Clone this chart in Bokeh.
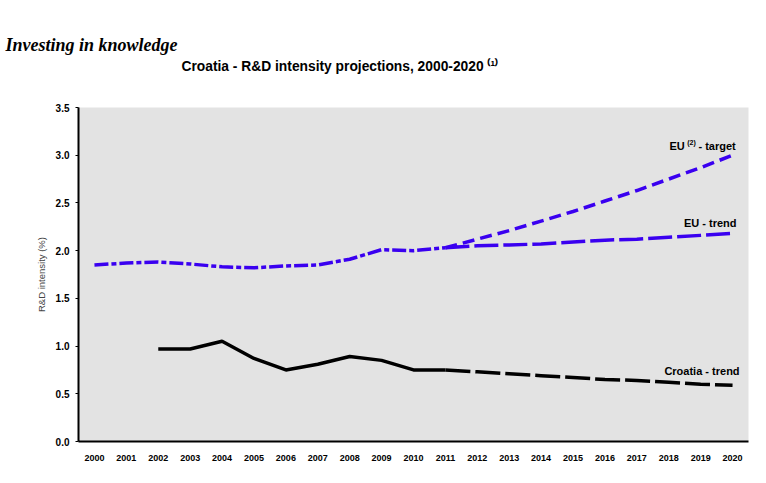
from bokeh.plotting import figure
from bokeh.models import Range1d, FixedTicker, Label, Title
from bokeh.embed import file_html
from bokeh.resources import INLINE

years = list(range(2000, 2021))
year_labels = [str(y) for y in years]
y_ticks = [0.0, 0.5, 1.0, 1.5, 2.0, 2.5, 3.0, 3.5]
y_tick_labels = ["0.0", "0.5", "1.0", "1.5", "2.0", "2.5", "3.0", "3.5"]

eu_hist_years = list(range(2000, 2012))
eu_hist = [1.85, 1.87, 1.88, 1.86, 1.83, 1.82, 1.84, 1.85, 1.91, 2.01, 2.00, 2.03]

eu_trend_years = list(range(2011, 2021))
eu_trend = [2.03, 2.05, 2.06, 2.07, 2.09, 2.11, 2.12, 2.14, 2.16, 2.18]

eu_target_years = list(range(2011, 2021))
eu_target = [2.03, 2.12, 2.21, 2.31, 2.41, 2.52, 2.63, 2.75, 2.87, 3.00]

hr_hist_years = list(range(2002, 2012))
hr_hist = [0.97, 0.97, 1.05, 0.87, 0.75, 0.81, 0.89, 0.85, 0.75, 0.75]

hr_trend_years = list(range(2011, 2021))
hr_trend = [0.75, 0.73, 0.71, 0.69, 0.67, 0.65, 0.64, 0.62, 0.60, 0.59]

BLUE = "#3a00f0"
SANS = "Liberation Sans"

p = figure(width=758, height=475, output_backend="svg", toolbar_location=None,
           x_range=Range1d(1999.5, 2020.5), y_range=Range1d(0, 3.5),
           min_border_left=78, min_border_right=10, min_border_top=107,
           min_border_bottom=34)
p.background_fill_color = "#e3e3e3"
p.border_fill_color = "white"
p.outline_line_color = None
p.xgrid.grid_line_color = None
p.ygrid.grid_line_color = None

p.xaxis.ticker = FixedTicker(ticks=years)
p.xaxis.major_label_overrides = {y: l for y, l in zip(years, year_labels)}
p.yaxis.ticker = FixedTicker(ticks=y_ticks)
p.yaxis.major_label_overrides = {t: l for t, l in zip(y_ticks, y_tick_labels)}

for ax in (p.xaxis, p.yaxis):
    ax.axis_line_color = "black"
    ax.axis_line_width = 2
    ax.minor_tick_line_color = None
    ax.major_label_text_font = SANS
    ax.major_label_text_font_style = "bold"
    ax.major_label_text_color = "black"
p.xaxis.major_label_text_font_size = "9px"
p.yaxis.major_label_text_font_size = "10px"
p.xaxis.major_tick_line_color = None
p.xaxis.major_label_standoff = 7
p.yaxis.major_tick_line_color = "black"
p.yaxis.major_tick_line_width = 1
p.yaxis.major_tick_in = 0
p.yaxis.major_tick_out = 3
p.yaxis.major_label_standoff = 6
p.yaxis.axis_label = "R&D intensity (%)"
p.yaxis.axis_label_text_font = SANS
p.yaxis.axis_label_text_font_style = "normal"
p.yaxis.axis_label_text_font_size = "9.5px"
p.yaxis.axis_label_standoff = 6

p.line(eu_hist_years, eu_hist, line_color=BLUE, line_width=3.5, line_dash="14 3 5 3")
p.line(eu_trend_years, eu_trend, line_color=BLUE, line_width=3.5, line_dash="24 5")
p.line(eu_target_years, eu_target, line_color=BLUE, line_width=3.5, line_dash="12 6")
p.line(hr_hist_years, hr_hist, line_color="black", line_width=3.5)
p.line(hr_trend_years, hr_trend, line_color="black", line_width=3.5, line_dash="25 5")

def lab(x, y, text, size="11px", xo=0, yo=0):
    p.add_layout(Label(x=x, y=y, text=text, text_font=SANS, text_font_size=size,
                       text_font_style="bold", text_align="right", text_color="black",
                       text_baseline="alphabetic", x_offset=xo, y_offset=yo))

# series labels
lab(2020.1, 3.10, "- target")
lab(2020.1, 3.10, "(2)", size="7px", xo=-40, yo=3)
lab(2020.1, 3.10, "EU", xo=-51)
lab(2020.22, 2.29, "EU  - trend")
lab(2020.22, 0.74, "Croatia - trend")

# titles, stacked upward from the plot area (later added = higher)
p.title.text = ""
spacer = Title(text=" ", text_font=SANS, text_font_size="10px", standoff=21)
p.add_layout(spacer, "above")
sub = Title(text="Croatia - R&D intensity projections, 2000-2020 \u207d\u00b9\u207e",
            text_font=SANS, text_font_size="13.8px", text_font_style="bold",
            align="left", offset=103, standoff=0, text_color="black")
p.add_layout(sub, "above")
main = Title(text="Investing in knowledge", text_font="Liberation Serif",
             text_font_size="18px", text_font_style="bold italic",
             align="left", offset=-73, standoff=4, text_color="black")
p.add_layout(main, "above")

open("out.html", "w").write(file_html(p, INLINE))
